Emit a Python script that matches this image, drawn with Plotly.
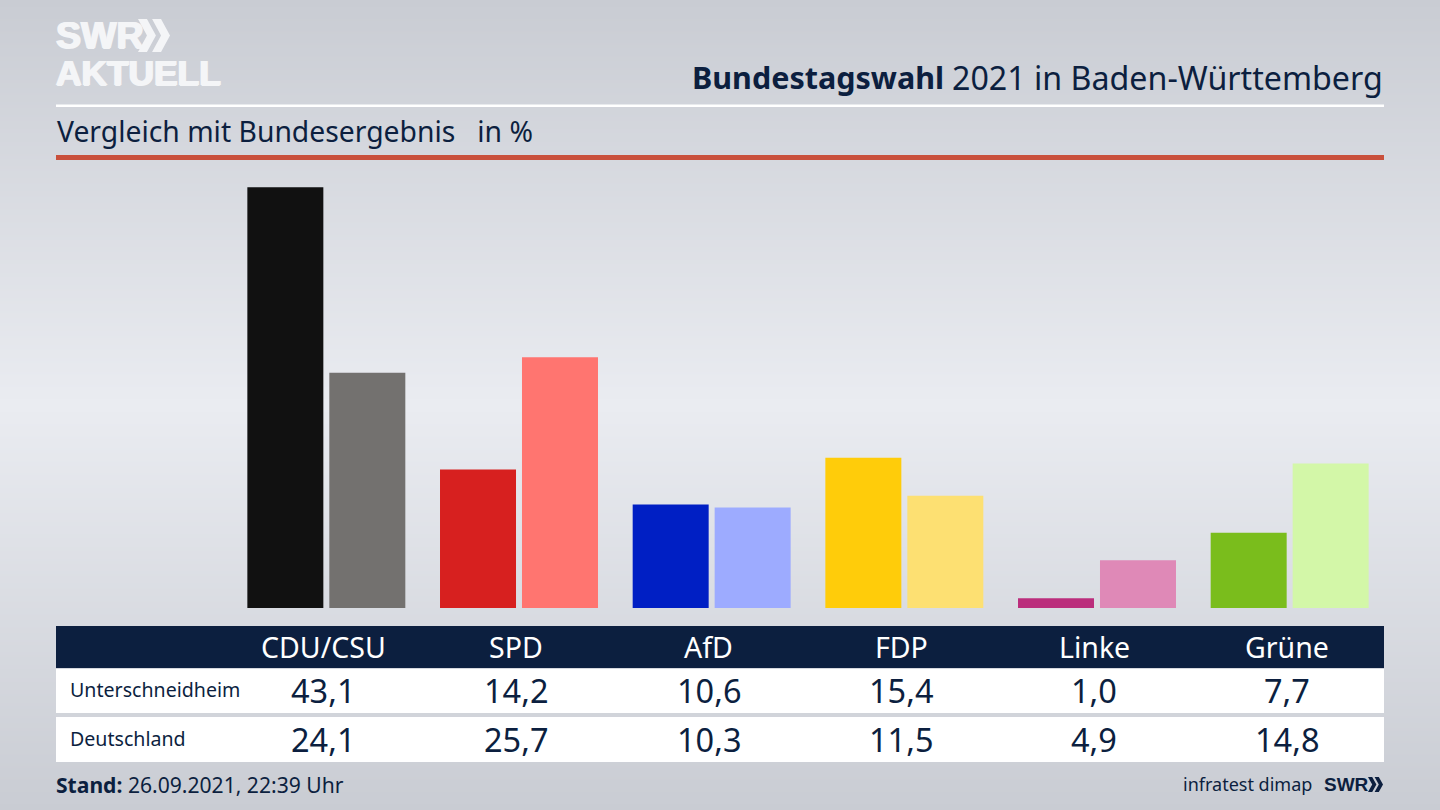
import plotly.graph_objects as go

parties = ['CDU/CSU', 'SPD', 'AfD', 'FDP', 'Linke', 'Grüne']
unterschneidheim = [43.1, 14.2, 10.6, 15.4, 1.0, 7.7]
deutschland = [24.1, 25.7, 10.3, 11.5, 4.9, 14.8]
colors_local = ['#111111', '#d7201f', '#001fc4', '#ffcc0a', '#bb2d7c', '#7abd1c']
colors_national = ['#73716f', '#ff7570', '#9dabff', '#fde072', '#df89b7', '#d3f7a8']
row_labels = ['Unterschneidheim', 'Deutschland']

bg_stops = ['#c9ccd3', '#eaecf1', '#c9ccd3']
W, H = 1440, 810
NAVY = '#0c1f3f'
LOGO_WHITE = '#f4f5f7'
FONT = 'Noto Sans'
LOGO_FONT = 'Liberation Sans'


def px_y(y):
    return 1 - y / H


def de(v):
    return f'{v:.1f}'.replace('.', ',')


fig = go.Figure()

# background gradient, on its own full-page axes
fig.add_trace(go.Heatmap(z=[[0, 0], [1, 1], [2, 2]], x=[0, 1], y=[0, 1, 2], zsmooth='best',
                         colorscale=[[0, bg_stops[0]], [0.5, bg_stops[1]], [1, bg_stops[2]]],
                         showscale=False, hoverinfo='skip', xaxis='x', yaxis='y'))

# bars
fig.add_trace(go.Bar(x=parties, y=unterschneidheim, marker=dict(color=colors_local, line_width=0),
                     name='Unterschneidheim', xaxis='x2', yaxis='y2'))
fig.add_trace(go.Bar(x=parties, y=deutschland, marker=dict(color=colors_national, line_width=0),
                     name='Deutschland', xaxis='x2', yaxis='y2'))

fig.update_layout(
    width=W, height=H, margin=dict(l=0, r=0, t=0, b=0), showlegend=False,
    paper_bgcolor='rgba(0,0,0,0)', plot_bgcolor='rgba(0,0,0,0)',
    barmode='group', bargap=0.149, bargroupgap=0.073,
    xaxis=dict(domain=[0, 1], range=[0, 1], visible=False, fixedrange=True),
    yaxis=dict(domain=[0, 1], range=[0, 2], visible=False, fixedrange=True),
    xaxis2=dict(domain=[230 / W, 1386 / W], range=[-0.5, 5.5], type='category', categoryorder='array',
                categoryarray=parties, visible=False, anchor='y2'),
    yaxis2=dict(domain=[px_y(608), px_y(160)], range=[0, 448 / 9.76], visible=False, anchor='x2'),
)

# rules and table rows
rects = [
    (56, 1384, 104.5, 107, '#ffffff'),
    (56, 1384, 155, 160, '#c9503c'),
    (56, 1384, 626, 668, NAVY),
    (56, 1384, 669, 713, '#ffffff'),
    (56, 1384, 717, 762, '#ffffff'),
]
for x0, x1, y0, y1, c in rects:
    fig.add_shape(type='rect', xref='paper', yref='paper', x0=x0 / W, x1=x1 / W, y0=px_y(y0), y1=px_y(y1),
                  fillcolor=c, line_width=0, layer='above')


def chevrons(x, y, w, h, color):
    # the double arrow of the SWR logo
    cw = w * 0.56
    d = ''
    for off in (0, w - cw):
        pts = [(x + off, y), (x + off + cw * 0.5, y), (x + off + cw, y + h / 2), (x + off + cw * 0.5, y + h),
               (x + off, y + h), (x + off + cw * 0.5, y + h / 2)]
        d += 'M' + ' L'.join(f'{px / W:.5f},{px_y(py):.5f}' for px, py in pts) + ' Z '
    fig.add_shape(type='path', xref='paper', yref='paper', path=d, fillcolor=color, line_width=0, layer='above')


def text(x, y, s, size, color=NAVY, anchor='left', family=FONT, xref='paper', weight=None, xshift=0, shadow=None):
    fig.add_annotation(x=x / W if xref == 'paper' else x, y=px_y(y), xref=xref, yref='paper', text=s,
                       showarrow=False, xanchor=anchor, yanchor='middle', xshift=xshift,
                       borderpad=0, borderwidth=0,
                       font=dict(family=family, size=size, color=color, weight=weight, shadow=shadow))


# logo, the shadow only makes the letters heavier
heavy = f'1px 0 0 {LOGO_WHITE}, -1px 0 0 {LOGO_WHITE}, 0 1px 0 {LOGO_WHITE}'
text(56, 35, 'SWR', 37.5, LOGO_WHITE, family=LOGO_FONT, weight=700, shadow=heavy)
text(56, 72, 'AKTUELL', 35.3, LOGO_WHITE, family=LOGO_FONT, weight=700, shadow=heavy)
chevrons(138, 19, 32, 33, LOGO_WHITE)

# titles
text(1383, 77, '2021 in Baden-Württemberg', 32.2, anchor='right')
text(944, 77, '<b>Bundestagswahl</b>', 30.5, anchor='right')
text(57, 131, 'Vergleich mit Bundesergebnis   in %', 28.3)

# table
for i, p in enumerate(parties):
    text(i, 646.5, p, 28.5, '#ffffff', 'center', xref='x2', xshift=-3)
    text(i, 690, de(unterschneidheim[i]), 32.5, anchor='center', xref='x2', xshift=-3)
    text(i, 739, de(deutschland[i]), 32.5, anchor='center', xref='x2', xshift=-3)
text(70, 689, row_labels[0], 19.6)
text(70, 738, row_labels[1], 19.6)

# footer
text(56, 784, '<b>Stand:</b> 26.09.2021, 22:39 Uhr', 21.1)
text(1183, 784, 'infratest dimap', 18)
text(1324, 784, 'SWR', 19, family=LOGO_FONT, weight=700)
chevrons(1368, 777, 15, 15, NAVY)

fig.write_html('out.html', config=dict(displayModeBar=False), post_script="document.body.style.margin='0';")
